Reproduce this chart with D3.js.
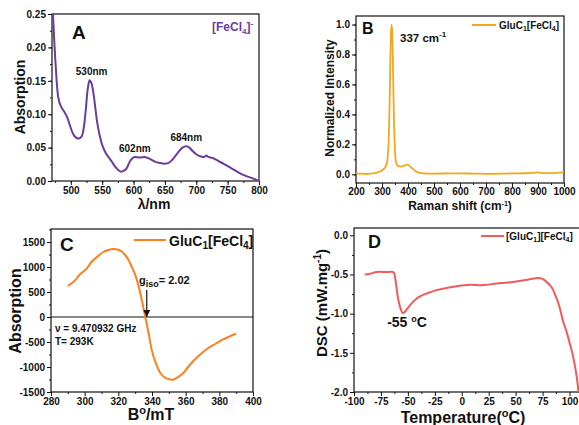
<!DOCTYPE html>
<html>
<head>
<meta charset="utf-8">
<script src="https://cdn.jsdelivr.net/npm/d3@7"></script>
<style>
  html, body { margin: 0; padding: 0; background: #fff; }
  svg { display: block; }
  text { font-family: "Liberation Sans", Arial, sans-serif; font-weight: bold; fill: #111; }
</style>
</head>
<body>
<svg id="fig" width="579" height="425"></svg>
<script>
// ---- Panel A: UV-vis absorption of [FeCl4]-
const uvWavelength = [471,473,476,480,484,490,494,498,502,506,510,514,518,521,524,527,530,533,536,539,542,546,550,555,560,566,571,576,580,584,589,593,597,602,610,618,626,634,642,650,656,661,667,672,678,684,689,694,700,706,712,716,719,727,735,745,756,767,778,790,800];
const uvAbsorption = [0.262,0.221,0.171,0.125,0.112,0.103,0.096,0.085,0.074,0.067,0.064,0.064,0.068,0.082,0.108,0.138,0.151,0.146,0.132,0.110,0.088,0.068,0.054,0.043,0.036,0.028,0.021,0.016,0.014,0.015,0.019,0.027,0.033,0.036,0.035,0.036,0.033,0.029,0.027,0.026,0.027,0.031,0.038,0.044,0.050,0.052,0.050,0.045,0.040,0.037,0.036,0.038,0.036,0.034,0.030,0.025,0.019,0.013,0.008,0.004,0.000];
const uvXTicks = [500,550,600,650,700,750,800];
const uvYTicks = [0.00,0.05,0.10,0.15,0.20,0.25];
const uvPeaks = [{label:"530nm", x:530, y:0.151}, {label:"602nm", x:602, y:0.036}, {label:"684nm", x:684, y:0.052}];

// ---- Panel B: Raman spectrum
const ramanShift = [200,220,240,260,280,295,306,312,319,325,329,332,335,337,339,342,345,349,353,358,364,375,385,395,402,410,420,430,440,460,500,550,600,650,700,750,800,850,880,895,910,950,1000];
const ramanIntensity = [0.005,0.004,0.002,0.006,0.012,0.020,0.035,0.045,0.075,0.20,0.45,0.75,0.96,1.0,0.96,0.75,0.45,0.20,0.09,0.060,0.055,0.052,0.058,0.064,0.062,0.050,0.035,0.020,0.012,0.006,0.005,0.006,0.006,0.005,0.003,0.004,0.006,0.007,0.010,0.013,0.009,0.008,0.015];
const ramanXTicks = [200,300,400,500,600,700,800,900,1000];
const ramanYTicks = [0.0,0.2,0.4,0.6,0.8,1.0];

// ---- Panel C: EPR spectrum
const eprField = [290,294,297,301,304,308,311,314,317,320,322,324,326,328,330,332,334,336,338,340,342,345,348,351,353,355,358,361,364,368,372,377,382,386,390];
const eprSignal = [620,720,846,960,1100,1220,1300,1340,1360,1345,1310,1240,1146,1000,846,620,330,0,-330,-680,-900,-1120,-1220,-1250,-1250,-1210,-1140,-1020,-900,-770,-654,-550,-454,-390,-334];
const eprXTicks = [280,300,320,340,360,380,400];
const eprYTicks = [-1500,-1000,-500,0,500,1000,1500];
const eprGiso = 336;

// ---- Panel D: DSC trace
const dscTemp = [-90,-85,-79,-75,-71.5,-64.7,-63,-61.3,-59.2,-56.7,-55,-53,-50.8,-45.2,-40,-36,-30,-23.5,-15,-5,7.4,19.7,32.2,40,50.7,63.1,70.8,74,77,83.2,87.8,91,94,97,100.2,102.5,104.8,106.8,108.3];
const dscFlow = [-0.50,-0.49,-0.468,-0.465,-0.47,-0.466,-0.48,-0.59,-0.80,-0.94,-0.99,-0.98,-0.94,-0.85,-0.79,-0.76,-0.73,-0.70,-0.675,-0.65,-0.63,-0.636,-0.615,-0.605,-0.59,-0.56,-0.545,-0.55,-0.575,-0.66,-0.80,-0.93,-1.10,-1.22,-1.38,-1.50,-1.65,-1.82,-2.0];
const dscXTicks = [-100,-75,-50,-25,0,25,50,75,100];
const dscYTicks = [-2.0,-1.5,-1.0,-0.5,0.0];

const svg = d3.select("#fig");
let clipId = 0;

// Tick labels use a plain hyphen for negative numbers.
const fmt = digits => d => d.toFixed(digits);

// Builds one framed panel with outward major/minor ticks and returns its scales.
function panel(opt) {
  const g = svg.append("g");
  const x = d3.scaleLinear().domain(opt.xDomain).range([opt.left, opt.right]);
  const y = d3.scaleLinear().domain(opt.yDomain).range([opt.bottom, opt.top]);
  const pad = opt.xPad === undefined ? 2 : opt.xPad;

  const xAxis = d3.axisBottom(x).tickValues(opt.xTicks).tickFormat(opt.xFmt).tickSize(4).tickPadding(pad);
  const yAxis = d3.axisLeft(y).tickValues(opt.yTicks).tickFormat(opt.yFmt).tickSize(4).tickPadding(2);
  const xMinor = d3.axisBottom(x).tickValues(opt.xMinor).tickFormat("").tickSize(2);
  const yMinor = d3.axisLeft(y).tickValues(opt.yMinor).tickFormat("").tickSize(2);

  [xMinor, xAxis].forEach(ax => {
    const a = g.append("g").attr("transform", `translate(0,${opt.bottom})`).call(ax);
    a.select(".domain").remove();
    a.selectAll("line").attr("stroke", "#111").attr("stroke-width", 1);
    a.selectAll("text").style("font-size", "10px").attr("fill", "#111");
  });
  [yMinor, yAxis].forEach(ax => {
    const a = g.append("g").attr("transform", `translate(${opt.left},0)`).call(ax);
    a.select(".domain").remove();
    a.selectAll("line").attr("stroke", "#111").attr("stroke-width", 1);
    a.selectAll("text").style("font-size", "10px").attr("fill", "#111");
  });

  const id = "clip" + (clipId++);
  g.append("clipPath").attr("id", id).append("rect")
    .attr("x", opt.left).attr("y", opt.top)
    .attr("width", opt.right - opt.left).attr("height", opt.bottom - opt.top);

  g.append("rect")
    .attr("x", opt.left).attr("y", opt.top)
    .attr("width", opt.right - opt.left).attr("height", opt.bottom - opt.top)
    .attr("fill", "none").attr("stroke", "#111").attr("stroke-width", 1.2);

  return { g, x, y, clip: `url(#${id})` };
}

function drawLine(p, xs, ys, color, width) {
  const pts = xs.map((v, i) => [v, ys[i]]);
  p.g.append("path")
    .datum(pts)
    .attr("clip-path", p.clip)
    .attr("fill", "none")
    .attr("stroke", color)
    .attr("stroke-width", width)
    .attr("stroke-linejoin", "round")
    .attr("d", d3.line().x(d => p.x(d[0])).y(d => p.y(d[1])).curve(d3.curveCatmullRom.alpha(0.5)));
}

function range(a, b, step) {
  const out = [];
  for (let v = a; v <= b + 1e-9; v += step) out.push(+v.toFixed(6));
  return out;
}

// ================= Panel A =================
const colA = "#6a3d9a";
const pA = panel({
  left: 52, right: 259, top: 14, bottom: 181,
  xDomain: [470, 800], yDomain: [0, 0.25],
  xTicks: uvXTicks, yTicks: uvYTicks,
  xMinor: range(475, 800, 25), yMinor: range(0, 0.25, 0.025),
  xFmt: fmt(0), yFmt: fmt(2)
});
drawLine(pA, uvWavelength, uvAbsorption, colA, 2);
pA.g.selectAll(".peak").data(uvPeaks).enter().append("text")
  .attr("class", "peak")
  .attr("x", d => pA.x(d.x) + (d.label === "530nm" ? 2 : 0))
  .attr("y", d => pA.y(d.y) - 5)
  .attr("text-anchor", "middle")
  .style("font-size", "10px")
  .text(d => d.label);
pA.g.append("text").attr("x", 72).attr("y", 39).style("font-size", "19px").text("A");
{
  const t = pA.g.append("text").attr("x", 212).attr("y", 31).style("font-size", "12px").style("fill", colA);
  t.append("tspan").text("[FeCl");
  t.append("tspan").attr("dy", 3).style("font-size", "8px").text("4");
  t.append("tspan").attr("dy", -3).text("]");
  t.append("tspan").attr("dy", -5).style("font-size", "8px").text("-");
}
pA.g.append("text").attr("transform", "translate(25,97) rotate(-90)").attr("text-anchor", "middle")
  .style("font-size", "14px").text("Absorption");
pA.g.append("text").attr("x", 154).attr("y", 209).attr("text-anchor", "middle")
  .style("font-size", "14px").text("λ/nm");

// ================= Panel B =================
const colB = "#f2a81d";
const pB = panel({
  left: 356, right: 564, top: 16, bottom: 183,
  xDomain: [200, 1000], yDomain: [-0.058, 1.057],
  xTicks: ramanXTicks, yTicks: ramanYTicks,
  xMinor: range(250, 1000, 100), yMinor: range(0, 1.0, 0.1),
  xFmt: fmt(0), yFmt: fmt(1), xPad: 1
});
drawLine(pB, ramanShift, ramanIntensity, colB, 1.8);
pB.g.append("text").attr("x", 362).attr("y", 34).style("font-size", "16px").text("B");
{
  const t = pB.g.append("text").attr("x", 400).attr("y", 42).style("font-size", "11.5px");
  t.append("tspan").text("337 cm");
  t.append("tspan").attr("dy", -5).style("font-size", "8px").text("-1");
}
pB.g.append("line").attr("x1", 472).attr("x2", 496).attr("y1", 25).attr("y2", 25)
  .attr("stroke", colB).attr("stroke-width", 2);
{
  const t = pB.g.append("text").attr("x", 499).attr("y", 29).style("font-size", "10px");
  t.append("tspan").text("GluC");
  t.append("tspan").attr("dy", 2).style("font-size", "7px").text("1");
  t.append("tspan").attr("dy", -2).text("[FeCl");
  t.append("tspan").attr("dy", 2).style("font-size", "7px").text("4");
  t.append("tspan").attr("dy", -2).text("]");
}
pB.g.append("text").attr("transform", "translate(334,98) rotate(-90)").attr("text-anchor", "middle")
  .style("font-size", "12px").text("Normalized Intensity");
{
  const t = pB.g.append("text").attr("x", 460).attr("y", 210).attr("text-anchor", "middle").style("font-size", "12px");
  t.append("tspan").text("Raman shift (cm");
  t.append("tspan").attr("dy", -4).style("font-size", "7px").text("-1");
  t.append("tspan").attr("dy", 4).text(")");
}

// ================= Panel C =================
const colC = "#ff7f1f";
const pC = panel({
  left: 51, right: 253, top: 229, bottom: 392,
  xDomain: [280, 400], yDomain: [-1500, 1760],
  xTicks: eprXTicks, yTicks: eprYTicks,
  xMinor: range(290, 400, 20), yMinor: range(-1250, 1750, 500),
  xFmt: fmt(0), yFmt: fmt(0)
});
pC.g.append("line").attr("x1", pC.x(280)).attr("x2", pC.x(400))
  .attr("y1", pC.y(0)).attr("y2", pC.y(0)).attr("stroke", "#111").attr("stroke-width", 1);
drawLine(pC, eprField, eprSignal, colC, 2);
pC.g.append("text").attr("x", 60).attr("y", 251).style("font-size", "19px").text("C");
pC.g.append("line").attr("x1", 134).attr("x2", 166).attr("y1", 240).attr("y2", 240)
  .attr("stroke", colC).attr("stroke-width", 2);
{
  const t = pC.g.append("text").attr("x", 169).attr("y", 246).style("font-size", "14px");
  t.append("tspan").text("GluC");
  t.append("tspan").attr("dy", 3).style("font-size", "10px").text("1");
  t.append("tspan").attr("dy", -3).text("[FeCl");
  t.append("tspan").attr("dy", 3).style("font-size", "10px").text("4");
  t.append("tspan").attr("dy", -3).text("]");
}
// g_iso marker arrow
svg.append("defs").append("marker").attr("id", "arrowHead")
  .attr("viewBox", "0 0 10 10").attr("refX", 10).attr("refY", 5)
  .attr("markerWidth", 6).attr("markerHeight", 7).attr("orient", "auto")
  .append("path").attr("d", "M0,0 L10,5 L0,10 Z").attr("fill", "#111");
pC.g.append("line").attr("x1", pC.x(eprGiso) + 1.5).attr("x2", pC.x(eprGiso) + 1.5)
  .attr("y1", 290).attr("y2", pC.y(0))
  .attr("stroke", "#111").attr("stroke-width", 1.2).attr("marker-end", "url(#arrowHead)");
{
  const t = pC.g.append("text").attr("x", 139).attr("y", 284).style("font-size", "11px");
  t.append("tspan").text("g");
  t.append("tspan").attr("dy", 3).style("font-size", "9px").text("iso");
  t.append("tspan").attr("dy", -3).text("= 2.02");
}
pC.g.append("text").attr("x", 55).attr("y", 332).style("font-size", "10px").text("ν = 9.470932 GHz");
pC.g.append("text").attr("x", 55).attr("y", 345).style("font-size", "10px").text("T= 293K");
pC.g.append("text").attr("transform", "translate(21,311) rotate(-90)").attr("text-anchor", "middle")
  .style("font-size", "16px").text("Absorption");
{
  const t = pC.g.append("text").attr("x", 151).attr("y", 420).attr("text-anchor", "middle").style("font-size", "16px");
  t.append("tspan").text("B");
  t.append("tspan").attr("dy", -6).style("font-size", "11px").text("o");
  t.append("tspan").attr("dy", 6).text("/mT");
}

// ================= Panel D =================
const colD = "#f05a5a";
const pD = panel({
  left: 354, right: 580, top: 228, bottom: 392,
  xDomain: [-100, 109.7], yDomain: [-2.0, 0.093],
  xTicks: dscXTicks, yTicks: dscYTicks,
  xMinor: range(-87.5, 100, 25), yMinor: range(-1.75, 0, 0.5),
  xFmt: fmt(0), yFmt: fmt(1)
});
drawLine(pD, dscTemp, dscFlow, colD, 2);
pD.g.append("text").attr("x", 368).attr("y", 248).style("font-size", "18px").text("D");
{
  const t = pD.g.append("text").attr("x", 407).attr("y", 327).attr("text-anchor", "middle").style("font-size", "14px");
  t.append("tspan").text("-55 ");
  t.append("tspan").attr("dy", -5).style("font-size", "9px").text("o");
  t.append("tspan").attr("dy", 5).text("C");
}
pD.g.append("line").attr("x1", 481).attr("x2", 504).attr("y1", 236).attr("y2", 236)
  .attr("stroke", colD).attr("stroke-width", 2);
{
  const t = pD.g.append("text").attr("x", 506).attr("y", 240).style("font-size", "10px");
  t.append("tspan").text("[GluC");
  t.append("tspan").attr("dy", 2).style("font-size", "7px").text("1");
  t.append("tspan").attr("dy", -2).text("][FeCl");
  t.append("tspan").attr("dy", 2).style("font-size", "7px").text("4");
  t.append("tspan").attr("dy", -2).text("]");
}
{
  const t = pD.g.append("text").attr("transform", "translate(327,303) rotate(-90)").attr("text-anchor", "middle").style("font-size", "15px");
  t.append("tspan").text("DSC (mW.mg");
  t.append("tspan").attr("dy", -6).style("font-size", "10px").text("-1");
  t.append("tspan").attr("dy", 6).text(")");
}
{
  const t = pD.g.append("text").attr("x", 463).attr("y", 423).attr("text-anchor", "middle").style("font-size", "16px");
  t.append("tspan").text("Temperature(");
  t.append("tspan").attr("dy", -6).style("font-size", "11px").text("o");
  t.append("tspan").attr("dy", 6).text("C)");
}
</script>
</body>
</html>
